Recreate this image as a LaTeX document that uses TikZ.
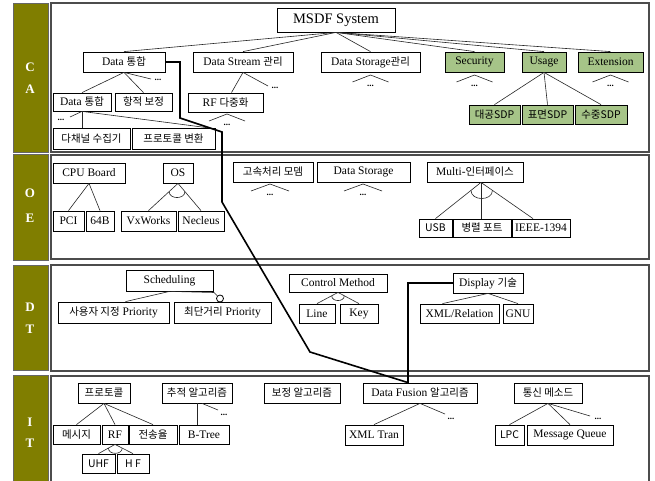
\documentclass[tikz,border=0pt]{standalone}
\usepackage{fontspec}
\setmainfont{Liberation Serif}
\newfontfamily\krf[Scale=0.91]{Noto Sans CJK KR}
\usetikzlibrary{calc}
\definecolor{olivebar}{RGB}{128,126,0}
\definecolor{sage}{RGB}{166,196,136}
\newcommand\K[1]{{\krf #1}}
\tikzset{
  box/.style={draw=black, line width=0.8pt, fill=white, inner sep=0pt, font=\fontsize{11.5}{13}\selectfont},
  gbox/.style={box, fill=sage},
  ln/.style={draw=black!85, line width=0.6pt},
  bus/.style={draw=black, line width=1.6pt, line join=miter},
  dotsn/.style={inner sep=0pt, font=\fontsize{9}{9}\selectfont\bfseries},
  panel/.style={draw=black!70, line width=1.2pt, fill=white},
  band/.style={draw=black!60, line width=0.8pt, fill=olivebar},
  bandtxt/.style={text=white, font=\fontsize{13}{13}\selectfont\bfseries, inner sep=0pt},
}
\newcommand\bx[7][]{\node[box,#1,minimum width={(#5-#3)*1pt},minimum height={(#6-#4)*1pt}] (#2) at ({(#3+#5)/2},{(#4+#6)/2}) {#7};}
\newcommand\fan[4]{%
  \coordinate (#1t) at (#2,#3);
  \coordinate (#1l) at ({#2-#4},{#3+7});
  \coordinate (#1r) at ({#2+#4},{#3+7});
  \draw[ln] (#1l) -- (#1t) -- (#1r);
  \node[dotsn] (#1) at (#2,{#3+11}) {...};}
\newcommand\arcmark[4]{%
  \draw[ln] ($(#1)!#4!(#2)$) to[out=-90,in=-90,looseness=1.3] ($(#1)!#4!(#3)$);}
\begin{document}
\begin{tikzpicture}[x=1pt,y=-1pt]
\useasboundingbox (0,0) rectangle (655,481);
\fill[white] (0,0) rectangle (655,481);

% bands and panels
\draw[band] (13,3) rectangle (48,152);
\draw[band] (13,154) rectangle (48,260);
\draw[band] (13,265) rectangle (48,370);
\draw[band] (13,375) rectangle (48,486);
\draw[panel] (51,3) rectangle (649,152);
\draw[panel] (51,155) rectangle (649,259);
\draw[panel] (51,265) rectangle (649,371);
\draw[panel] (51,376) rectangle (649,486);
\node[bandtxt] (lc) at (30,67) {C};
\node[bandtxt] (la) at (30,89) {A};
\node[bandtxt] (lo) at (30,193) {O};
\node[bandtxt] (le) at (30,218) {E};
\node[bandtxt] (ld) at (30,307) {D};
\node[bandtxt] (lt1) at (30,329) {T};
\node[bandtxt] (li) at (30,422) {I};
\node[bandtxt] (lt2) at (30,443) {T};

% CA boxes
\bx[font=\fontsize{14.5}{16}\selectfont]{msdf}{277}{8}{395}{32}{MSDF System}
\bx{di1}{83}{52}{165}{72}{Data \K{통합}}
\bx{ds1}{193}{52}{293}{72}{Data Stream \K{관리}}
\bx{dg1}{321}{52}{420}{72}{Data Storage\K{관리}}
\bx[gbox]{sec}{445}{52}{504}{72}{Security}
\bx[gbox]{usg}{522}{52}{566}{72}{Usage}
\bx[gbox]{ext}{578}{52}{643}{72}{Extension}
\bx[gbox]{sdpa}{469}{105}{520}{124}{\K{대공SDP}}
\bx[gbox]{sdpb}{522}{105}{573}{124}{\K{표면SDP}}
\bx[gbox]{sdpc}{575}{105}{627}{124}{\K{수중SDP}}
\bx{di2}{53}{93}{111}{111}{Data \K{통합}}
\bx{hj}{115}{93}{172}{111}{\K{항적 보정}}
\bx{rf1}{188}{93}{263}{112}{RF \K{다중화}}
\bx{ch}{53}{128}{130}{149}{\K{다채널 수집기}}
\bx{pv}{132}{128}{215}{149}{\K{프로토콜 변환}}

% OE boxes
\bx{cpu}{53}{163}{125}{183}{CPU Board}
\bx{os}{163}{163}{193}{183}{OS}
\bx{pci}{53}{211}{84}{231}{PCI}
\bx{b64}{86}{211}{114}{231}{64B}
\bx{vx}{121}{211}{176}{231}{VxWorks}
\bx{ne}{178}{211}{224}{231}{Necleus}
\bx{gs}{233}{162}{313}{182}{\K{고속처리 모뎀}}
\bx{ds2}{317}{162}{410}{182}{Data Storage}
\bx{mi}{427}{162}{523}{182}{Multi-\K{인터페이스}}
\bx{usb}{419}{219}{452}{237}{\K{USB}}
\bx{pp}{453}{219}{511}{237}{\K{병렬 포트}}
\bx{ieee}{512}{219}{570}{237}{IEEE-1394}

% DT boxes
\bx{sch}{126}{270}{213}{291}{Scheduling}
\bx{up}{58}{302}{169}{323}{\K{사용자 지정} Priority}
\bx{sp}{174}{302}{271}{323}{\K{최단거리} Priority}
\bx{cm}{289}{274}{387}{292}{Control Method}
\bx{lnb}{299}{304}{335}{323}{Line}
\bx{key}{340}{304}{378}{323}{Key}
\bx{dsp}{453}{273}{523}{293}{Display \K{기술}}
\bx{xr}{420}{304}{499}{323}{XML/Relation}
\bx{gnu}{503}{304}{533}{323}{GNU}

% IT boxes
\bx{pr}{78}{383}{130}{403}{\K{프로토콜}}
\bx{tr}{162}{383}{232}{403}{\K{추적 알고리즘}}
\bx{bj}{264}{383}{340}{403}{\K{보정 알고리즘}}
\bx{df}{363}{383}{477}{403}{Data Fusion \K{알고리즘}}
\bx{ts}{514}{383}{582}{403}{\K{통신 메소드}}
\bx{msg}{53}{425}{100}{444}{\K{메시지}}
\bx{rf2}{102}{425}{128}{444}{RF}
\bx{tx}{129}{425}{177}{444}{\K{전송율}}
\bx{bt}{179}{425}{229}{444}{B-Tree}
\bx{uhf}{82}{454}{115}{473}{\K{UHF}}
\bx{hf}{117}{454}{149}{473}{\K{H F}}
\bx{xt}{345}{425}{403}{445}{XML Tran}
\bx{lpc}{495}{425}{524}{445}{\K{LPC}}
\bx{mq}{527}{425}{613}{445}{Message Queue}

% CA connectors
\foreach \c in {di1,ds1,dg1,sec,usg,ext} \draw[ln] (msdf.south) -- (\c.north);
\foreach \c in {sdpa,sdpb,sdpc} \draw[ln] (usg.south) -- (\c.north);
\draw[ln] (di1.south) -- (di2.north);
\draw[ln] (di1.south) -- (hj.north);
\coordinate (di1d) at (151,79);
\draw[ln] (di1.south) -- (di1d);
\node[dotsn] (di1dots) at (158,80) {...};
\draw[ln] (ds1.south) -- ([xshift=6pt]rf1.north);
\coordinate (ds1d) at (268,86);
\draw[ln] (ds1.south) -- (ds1d);
\node[dotsn] (ds1dots) at (275,88) {...};
\coordinate (di2d) at (70,117);
\draw[ln] (di2.south) -- (di2d);
\node[dotsn] (di2dots) at (61,120) {...};
\draw[ln] (di2.south) -- (di2.south |- ch.north);
\draw[ln] (di2.south) -- ([xshift=33pt]pv.north);
\fan{fdg}{370.5}{75}{18}
\fan{fsec}{474.5}{75}{18}
\fan{fext}{610.5}{75}{18}
\fan{frf}{227}{114}{18}

% OE connectors
\draw[ln] (cpu.south) -- (pci.north);
\draw[ln] (cpu.south) -- (b64.north);
\draw[ln] (os.south) -- (vx.north);
\draw[ln] (os.south) -- (ne.north);
\arcmark{os.south}{vx.north}{ne.north}{0.3}
\fan{fgs}{270}{184}{19}
\fan{fds}{363}{184}{19}
\coordinate (mia) at ([xshift=6pt]mi.south);
\coordinate (ieet) at ([xshift=-8pt]ieee.north);
\draw[ln] (mia) -- (usb.north);
\draw[ln] (mia) -- (mia |- pp.north);
\draw[ln] (mia) -- (ieet);
\arcmark{mia}{usb.north}{ieet}{0.22}

% DT connectors
\coordinate (schk) at (214,292.5);
\node[circle, draw=black, line width=0.8pt, fill=white, minimum size=7pt, inner sep=0pt] (ring) at (220,298.5) {};
\draw[ln] (sch.south) -- ([xshift=12pt]up.north);
\draw[ln] (sch.south) -- (schk) -- (ring);
\draw[ln] (cm.south) -- (lnb.north);
\draw[ln] (cm.south) -- (key.north);
\arcmark{cm.south}{lnb.north}{key.north}{0.3}
\draw[ln] (dsp.south) -- ([xshift=-17pt]xr.north);
\draw[ln] (dsp.south) -- (gnu.north);

% IT connectors
\draw[ln] (pr.south) -- (msg.north);
\draw[ln] (pr.south) -- (rf2.north);
\draw[ln] (pr.south) -- (tx.north);
\draw[ln] (tr.south) -- (tr.south |- bt.north);
\coordinate (trd) at (218,410);
\draw[ln] ([xshift=5pt]tr.south) -- (trd);
\node[dotsn] (trdots) at (224,415) {...};
\draw[ln] (rf2.south) -- (uhf.north);
\draw[ln] (rf2.south) -- (hf.north);
\arcmark{rf2.south}{uhf.north}{hf.north}{0.4}
\draw[ln] (df.south) -- (xt.north);
\coordinate (dfd) at (445,414);
\draw[ln] (df.south) -- (dfd);
\node[dotsn] (dfdots) at (451,419) {...};
\draw[ln] (ts.south) -- (lpc.north);
\draw[ln] (ts.south) -- (mq.north);
\coordinate (tsd) at (590,416);
\draw[ln] (ts.south) -- (tsd);
\node[dotsn] (tsdots) at (598,419) {...};

% thick bus
\draw[bus] (di1.east) -- (180,62) -- (180,118) -- (222,132) -- (222,202) -- (310,352) -- ([xshift=-12pt]df.north);
\draw[bus] ([xshift=-12pt]df.north) |- (dsp.west);
\end{tikzpicture}
\end{document}
